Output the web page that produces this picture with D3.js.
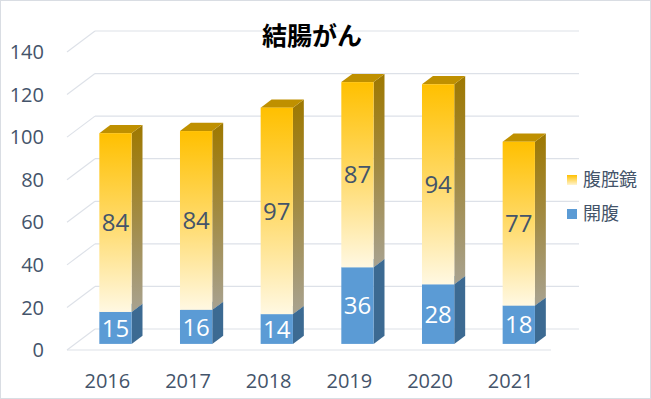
<!DOCTYPE html>
<html>
<head>
<meta charset="utf-8">
<script src="https://cdn.jsdelivr.net/npm/d3@7/dist/d3.min.js"></script>
<style>
  body { margin: 0; background: #fff; }
</style>
</head>
<body>
<div id="chart"></div>
<script>
// data
var years = ["2016", "2017", "2018", "2019", "2020", "2021"];
var openVals = [15, 16, 14, 36, 28, 18];      // 開腹
var lapVals = [84, 84, 97, 87, 94, 77];       // 腹腔鏡
var yTicks = [0, 20, 40, 60, 80, 100, 120, 140];
var titleText = "結腸がん";
var legendNames = ["腹腔鏡", "開腹"];

var WIDTH = 651, HEIGHT = 399;
var DX = 28, DY = 21;          // depth of the 3d box
var Z0 = 0.29, Z1 = 0.68;      // bar depth inside the box
var textColor = "#44546A";
var numFont = "'Open Sans', 'Liberation Sans', sans-serif";
var cjkFont = "'Noto Sans CJK JP', sans-serif";

var svg = d3.select("#chart").append("svg")
    .attr("width", WIDTH)
    .attr("height", HEIGHT);

var defs = svg.append("defs");
function vGrad(id, stops) {
    var g = defs.append("linearGradient").attr("id", id)
        .attr("x1", 0).attr("y1", 0).attr("x2", 0).attr("y2", 1);
    stops.forEach(function (s) {
        g.append("stop").attr("offset", s[0]).attr("stop-color", s[1]);
    });
}
vGrad("lapFront", [[0, "#FFC000"], [0.5, "#FFDA6A"], [1, "#FFF8E2"]]);
vGrad("lapSide", [[0, "#9E7800"], [0.5, "#A28B45"], [1, "#A8A290"]]);
vGrad("lapLegend", [[0, "#FFC000"], [1, "#FFF4D0"]]);

svg.append("rect")
    .attr("x", 0.5).attr("y", 0.5)
    .attr("width", WIDTH - 1).attr("height", HEIGHT - 1)
    .attr("fill", "#fff").attr("stroke", "#D9DDE3");

var x = d3.scaleBand().domain(years).range([67, 551])
    .paddingInner(0.6).paddingOuter(0.3);
var y = d3.scaleLinear().domain([0, 140]).range([350, 52]);

// project a point (px, value, depth) to screen
function P(px, v, z) {
    return [px + z * DX, y(v) - z * DY];
}
function poly(pts) {
    return "M" + pts.map(function (p) { return p.join(","); }).join("L") + "Z";
}

var grid = svg.append("g").attr("id", "grid");
grid.selectAll("line.back")
    .data(yTicks).enter().append("line")
    .attr("class", "back")
    .attr("x1", 67 + DX).attr("x2", 551 + DX)
    .attr("y1", function (d) { return y(d) - DY; })
    .attr("y2", function (d) { return y(d) - DY; })
    .attr("stroke", "#DDE1E8").attr("stroke-width", 1.2);
grid.selectAll("line.side")
    .data(yTicks).enter().append("line")
    .attr("class", "side")
    .attr("x1", 67).attr("x2", 67 + DX)
    .attr("y1", function (d) { return y(d); })
    .attr("y2", function (d) { return y(d) - DY; })
    .attr("stroke", "#DDE1E8").attr("stroke-width", 1.2);
grid.append("line")
    .attr("x1", 67).attr("x2", 551)
    .attr("y1", y(0)).attr("y2", y(0))
    .attr("stroke", "#DDE1E8").attr("stroke-width", 1.2);

// y axis labels
svg.append("g").selectAll("text")
    .data(yTicks).enter().append("text")
    .attr("x", 44).attr("y", function (d) { return y(d); })
    .attr("dy", "0.36em")
    .attr("text-anchor", "end")
    .attr("font-family", numFont).attr("font-size", 20)
    .attr("fill", textColor)
    .text(function (d) { return d; });

// x axis labels
svg.append("g").selectAll("text")
    .data(years).enter().append("text")
    .attr("x", function (d) { return x(d) + x.bandwidth() / 2; })
    .attr("y", 381).attr("dy", "0.36em")
    .attr("text-anchor", "middle")
    .attr("font-family", numFont).attr("font-size", 20)
    .attr("fill", textColor)
    .text(function (d) { return d; });

// stacked 3d bars
var rows = years.map(function (yr, i) {
    return { year: yr, open: openVals[i], lap: lapVals[i] };
});
var stack = d3.stack().keys(["open", "lap"])(rows);
var styles = {
    open: { front: "#5B9BD5", side: "#3C6A92", top: "#4A83B8", label: "#fff" },
    lap: { front: "url(#lapFront)", side: "url(#lapSide)", top: "#BF9000", label: textColor }
};

var bars = svg.append("g").attr("id", "bars");
stack.forEach(function (layer) {
    var st = styles[layer.key];
    var g = bars.append("g").attr("class", "series-" + layer.key);
    layer.forEach(function (d) {
        var x0 = x(d.data.year), x1 = x0 + x.bandwidth();
        var lo = d[0], hi = d[1];
        // side
        g.append("path")
            .attr("d", poly([P(x1, lo, Z0), P(x1, lo, Z1), P(x1, hi, Z1), P(x1, hi, Z0)]))
            .attr("fill", st.side);
        // top
        g.append("path")
            .attr("d", poly([P(x0, hi, Z0), P(x1, hi, Z0), P(x1, hi, Z1), P(x0, hi, Z1)]))
            .attr("fill", st.top);
        // front
        var a = P(x0, hi, Z0), b = P(x1, lo, Z0);
        g.append("rect")
            .attr("x", a[0]).attr("y", a[1])
            .attr("width", b[0] - a[0]).attr("height", b[1] - a[1])
            .attr("fill", st.front);
        g.append("text")
            .attr("x", (a[0] + b[0]) / 2)
            .attr("y", (a[1] + b[1]) / 2)
            .attr("dy", "0.36em")
            .attr("text-anchor", "middle")
            .attr("font-family", numFont).attr("font-size", 24)
            .attr("fill", st.label)
            .text(hi - lo);
    });
});

// title
svg.append("text")
    .attr("x", 312).attr("y", 36).attr("dy", "0.36em")
    .attr("text-anchor", "middle")
    .attr("font-family", cjkFont).attr("font-size", 25).attr("font-weight", 700)
    .attr("fill", "#000")
    .text(titleText);

// legend
var legendFill = ["url(#lapLegend)", "#5B9BD5"];
var legend = svg.append("g").selectAll("g")
    .data(legendNames).enter().append("g")
    .attr("transform", function (d, i) { return "translate(567," + (180 + i * 34) + ")"; });
legend.append("rect")
    .attr("x", 0).attr("y", -5).attr("width", 10).attr("height", 10)
    .attr("fill", function (d, i) { return legendFill[i]; });
legend.append("text")
    .attr("x", 16).attr("y", 0).attr("dy", "0.36em")
    .attr("font-family", cjkFont).attr("font-size", 18)
    .attr("fill", textColor)
    .text(function (d) { return d; });
</script>
</body>
</html>
